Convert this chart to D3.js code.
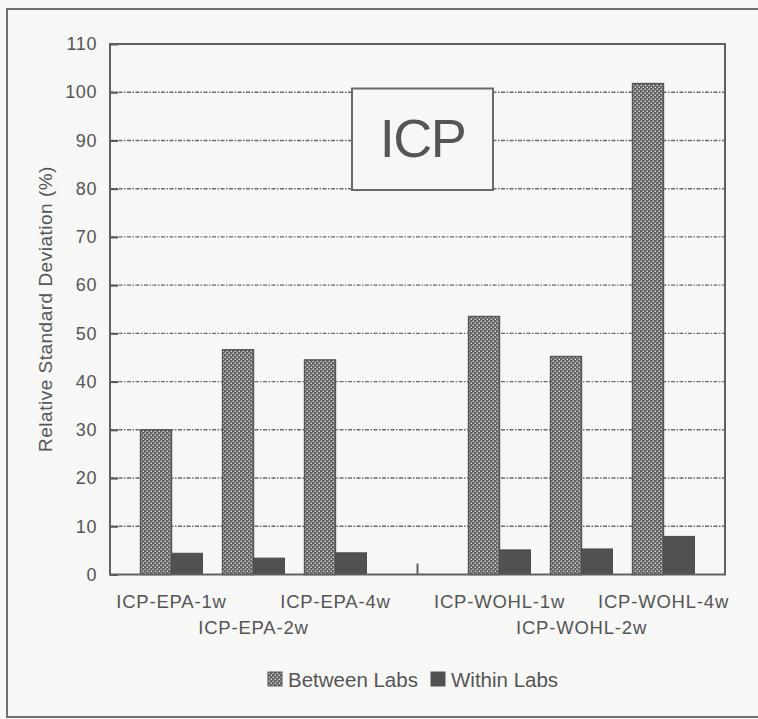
<!DOCTYPE html>
<html>
<head>
<meta charset="utf-8">
<script src="https://cdn.jsdelivr.net/npm/d3@7"></script>
<style>
  html, body { margin: 0; padding: 0; background: #f7f7f5; }
  svg { display: block; }
  text { font-family: Arial, "Liberation Sans", sans-serif; fill: #555; }
</style>
</head>
<body>
<svg id="chart" width="758" height="719"></svg>
<script>
// ---- data ----
const categories = ["ICP-EPA-1w", "ICP-EPA-2w", "ICP-EPA-4w", "ICP-WOHL-1w", "ICP-WOHL-2w", "ICP-WOHL-4w"];
const slots = ["ICP-EPA-1w", "ICP-EPA-2w", "ICP-EPA-4w", "", "ICP-WOHL-1w", "ICP-WOHL-2w", "ICP-WOHL-4w"];
const betweenLabs = [30, 46.6, 44.5, 53.5, 45.2, 101.8];
const withinLabs = [4.4, 3.4, 4.5, 5.1, 5.3, 7.9];
const seriesNames = ["Between Labs", "Within Labs"];
const yTicks = [0, 10, 20, 30, 40, 50, 60, 70, 80, 90, 100, 110];
const yLabel = "Relative Standard Deviation (%)";
const titleText = "ICP";

const svg = d3.select("#chart");

// outer frame
svg.append("rect").attr("x", 7).attr("y", 9).attr("width", 770).attr("height", 708)
  .attr("fill", "#f7f7f5").attr("stroke", "#707070").attr("stroke-width", 2);

// patterns
const defs = svg.append("defs");
const pat = defs.append("pattern").attr("id", "dots").attr("patternUnits", "userSpaceOnUse")
  .attr("width", 4).attr("height", 4);
pat.append("rect").attr("width", 4).attr("height", 4).attr("fill", "#626262");
pat.append("rect").attr("x", 0.6).attr("y", 0.6).attr("width", 1.4).attr("height", 1.4).attr("fill", "#dcdcdc");
pat.append("rect").attr("x", 2.6).attr("y", 2.6).attr("width", 1.4).attr("height", 1.4).attr("fill", "#dcdcdc");

const pLeft = 110, pRight = 725, pTop = 44, pBottom = 574.5;

const x = d3.scaleBand().domain(d3.range(slots.length)).range([pLeft, pRight])
  .paddingInner(0.244).paddingOuter(0.372);
const xs = d3.scaleBand().domain([0, 1]).range([0, x.bandwidth()]);
const y = d3.scaleLinear().domain([0, 110]).range([pBottom, pTop]);

// gridlines
svg.append("g").selectAll("line").data(yTicks.filter(d => d > 0 && d < 110)).join("line")
  .attr("x1", pLeft).attr("x2", pRight).attr("y1", d => y(d)).attr("y2", d => y(d))
  .attr("stroke", "#6a6a6a").attr("stroke-width", 1.4).attr("stroke-dasharray", "4,1.5,1.5,1.5");

// y-axis (ticks inward)
const yAxis = d3.axisLeft(y).tickValues(yTicks).tickSize(-8).tickPadding(20).tickFormat(d3.format("d"));
const gy = svg.append("g").attr("transform", `translate(${pLeft},0)`).call(yAxis);
gy.select(".domain").remove();
gy.selectAll(".tick line").attr("stroke", "#555").attr("stroke-width", 2);
gy.selectAll(".tick text").attr("font-size", 18).attr("letter-spacing", 0.6)
  .style("font-family", "Arial, 'Liberation Sans', sans-serif").attr("fill", "#555").attr("dx", 7);

// ICP box
svg.append("rect").attr("x", 352).attr("y", 88.5).attr("width", 141).attr("height", 101.5)
  .attr("fill", "#f7f7f5").attr("stroke", "#6a6a6a").attr("stroke-width", 2);
svg.append("text").attr("x", 422.5).attr("y", 156.5).attr("text-anchor", "middle")
  .attr("font-size", 54).attr("letter-spacing", -1.5).attr("fill", "#5a5a5a").text(titleText);

// bars
const slotIndex = c => slots.indexOf(c);
svg.append("g").selectAll("rect").data(categories).join("rect")
  .attr("x", (c) => x(slotIndex(c)) + xs(0))
  .attr("width", xs.bandwidth())
  .attr("y", (c, i) => y(betweenLabs[i]))
  .attr("height", (c, i) => y(0) - y(betweenLabs[i]))
  .attr("fill", "url(#dots)").attr("stroke", "#555").attr("stroke-width", 1.4);
svg.append("g").selectAll("rect").data(categories).join("rect")
  .attr("x", (c) => x(slotIndex(c)) + xs(1))
  .attr("width", xs.bandwidth())
  .attr("y", (c, i) => y(withinLabs[i]))
  .attr("height", (c, i) => y(0) - y(withinLabs[i]))
  .attr("fill", "#515151").attr("stroke", "#4c4c4c").attr("stroke-width", 1);

// plot frame
svg.append("rect").attr("x", pLeft).attr("y", pTop).attr("width", pRight - pLeft).attr("height", pBottom - pTop)
  .attr("fill", "none").attr("stroke", "#606060").attr("stroke-width", 2);

// gap tick
const gapIdx = slots.indexOf("");
svg.append("line").attr("x1", x(gapIdx) + x.bandwidth() / 2).attr("x2", x(gapIdx) + x.bandwidth() / 2)
  .attr("y1", pBottom - 11).attr("y2", pBottom).attr("stroke", "#606060").attr("stroke-width", 2);

// x labels (staggered)
svg.append("g").selectAll("text").data(categories).join("text")
  .attr("x", c => x(slotIndex(c)) + x.bandwidth() / 2)
  .attr("y", (c, i) => (i === 1 || i === 4) ? 634 : 608)
  .attr("text-anchor", "middle").attr("font-size", 18.5).attr("letter-spacing", 0.8).text(c => c);

// y label
svg.append("text").attr("transform", "translate(52,309) rotate(-90)")
  .attr("text-anchor", "middle").attr("font-size", 19).attr("letter-spacing", 0.5).text(yLabel);

// legend
const legend = svg.append("g");
const legX = [268, 431];
legend.selectAll("rect").data(seriesNames).join("rect")
  .attr("x", (d, i) => legX[i]).attr("y", 672).attr("width", 14).attr("height", 14)
  .attr("fill", (d, i) => i === 0 ? "url(#dots)" : "#515151").attr("stroke", "#555").attr("stroke-width", 1);
legend.selectAll("text").data(seriesNames).join("text")
  .attr("x", (d, i) => legX[i] + 20).attr("y", 686.5)
  .attr("font-size", 20.5).attr("letter-spacing", 0).text(d => d);
</script>
</body>
</html>
